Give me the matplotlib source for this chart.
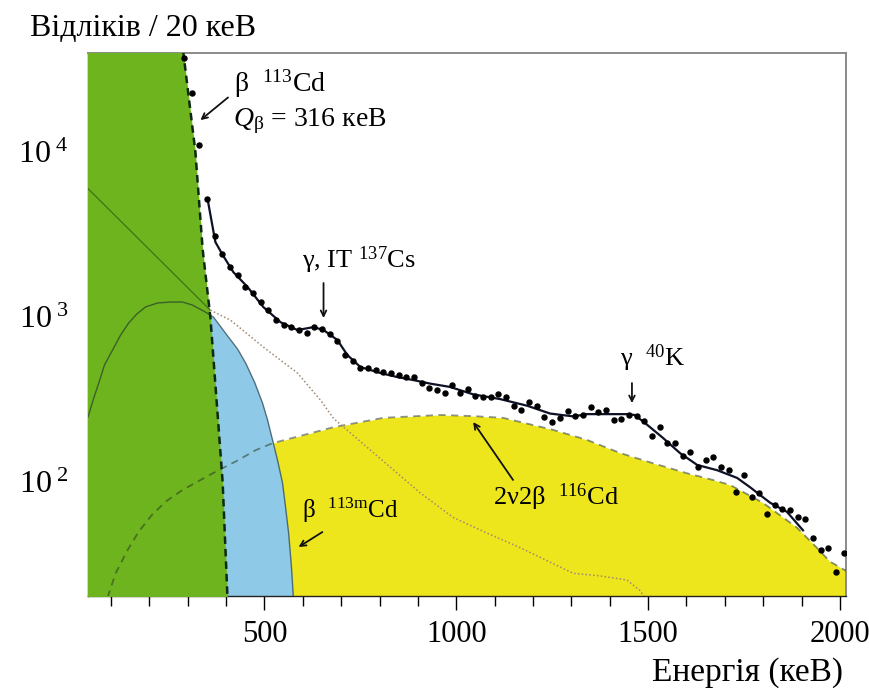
import matplotlib
matplotlib.use("Agg")
import matplotlib.pyplot as plt
from matplotlib.ticker import FixedLocator, FixedFormatter, MultipleLocator, LogLocator, NullFormatter

plt.rcParams["font.family"] = ["Liberation Serif", "DejaVu Serif"]
plt.rcParams["mathtext.fontset"] = "custom"
plt.rcParams["mathtext.rm"] = "Liberation Serif"
plt.rcParams["mathtext.it"] = "Liberation Serif:italic"
plt.rcParams["mathtext.bf"] = "Liberation Serif:bold"

# measured spectrum, counts per 20 keV bin
data_e = [290, 310, 330, 350, 370, 390, 410, 430, 450, 470, 490, 510, 530, 550, 570,
          590, 610, 630, 650, 670, 690, 710, 730, 750, 770, 790, 810, 830, 850, 870,
          890, 910, 930, 950, 970, 990, 1010, 1030, 1050, 1070, 1090, 1110, 1130, 1150,
          1170, 1190, 1210, 1230, 1250, 1270, 1290, 1310, 1330, 1350, 1370, 1390, 1410,
          1430, 1450, 1470, 1490, 1510, 1530, 1550, 1570, 1590, 1610, 1630, 1650, 1670,
          1690, 1710, 1730, 1750, 1770, 1790, 1810, 1830, 1850, 1870, 1890, 1910, 1930,
          1950, 1970, 1990, 2010]
data_n = [37000, 22800, 11000, 5200, 3100, 2400, 2000, 1800, 1520, 1400, 1230, 1100, 960,
          900, 870, 830, 800, 870, 850, 790, 720, 590, 540, 490, 490, 475, 465, 455, 445,
          433, 433, 400, 371, 360, 346, 387, 346, 366, 332, 327, 327, 341, 327, 289, 273,
          305, 289, 248, 231, 245, 269, 250, 255, 285, 266, 273, 238, 241, 255, 251, 234,
          190, 215, 172, 172, 144, 152, 123, 136, 142, 123, 118, 87, 110, 81, 86, 64, 73,
          69, 68, 61, 60, 46, 39, 40, 28.5, 37]

# total fit
fit_e = [352, 372, 391, 419, 456, 497, 542, 586, 628, 654, 690, 716, 750, 802, 846, 888,
         932, 984, 1044, 1115, 1185, 1245, 1305, 1341, 1393, 1445, 1465, 1490, 1539, 1583,
         1628, 1680, 1732, 1766, 1818, 1862, 1904]
fit_n = [5140, 2850, 2380, 1870, 1520, 1150, 930, 834, 869, 834, 726, 589, 498, 458, 433,
         415, 395, 377, 340, 318, 290, 260, 250, 258, 258, 258, 255, 230, 185, 150, 127,
         118, 106, 93, 75, 66, 51]

# beta 113Cd (edge of the green area)
cd113_e = [288, 320, 339, 359, 391, 404]
cd113_n = [41000, 10000, 2560, 1000, 100, 19]

# beta 113mCd
cd113m_e = [40, 55, 68, 83, 104, 125, 146, 167, 190, 221, 255, 286, 312, 346, 367, 406,
            430, 451, 474, 495, 508, 521, 534, 547, 555, 563, 570, 576]
cd113m_n = [248, 323, 398, 512, 631, 778, 920, 1042, 1151, 1216, 1233, 1233, 1183, 1072,
            1000, 757, 640, 526, 404, 301, 238, 180, 136, 99, 70.5, 49, 31.4, 19]

# 2nu2beta 116Cd
cd116_e = [91, 112, 143, 172, 206, 242, 286, 365, 427, 477, 521, 680, 810, 958, 1044,
           1122, 1253, 1341, 1427, 1513, 1602, 1669, 1714, 1799, 1888, 1940, 1974, 2016]
cd116_n = [20, 28, 38.7, 50, 63, 76, 89.5, 113, 134, 156, 172, 215, 245, 255, 251, 245,
           207, 180, 150, 130, 113, 103, 96, 75, 53, 40, 33, 29]

# external background
bg_e = [40, 359, 411, 497, 586, 646, 680, 906, 992, 1081, 1167, 1253, 1305, 1375, 1445,
        1479, 1497]
bg_n = [6000, 1100, 959, 658, 458, 314, 243, 86, 61, 49, 40, 32, 28, 27, 25.5, 22, 19.3]

XMIN, XMAX = 40, 2016
YMIN, YMAX = 20.4, 39800

fig = plt.figure(figsize=(8.69, 6.91), dpi=100)
ax = fig.add_axes([88 / 869, 1 - 596 / 691, 758 / 869, 543 / 691])

ax.fill_between(cd116_e, YMIN / 10, cd116_n, color="#eee61c", lw=0, zorder=1)
ax.fill_between(cd113m_e, YMIN / 10, cd113m_n, color="#8ecae8", lw=0, zorder=2)
ax.fill_betweenx(cd113_n, XMIN - 10, cd113_e, color="#6db41e", lw=0, zorder=3)

ax.plot(cd116_e, cd116_n, color="#2a3a20", lw=1.3, ls=(0, (4, 3)), alpha=0.55, zorder=4)
ax.plot(cd113m_e, cd113m_n, color="#1a2a30", lw=1.0, alpha=0.6, zorder=4)
ax.plot(bg_e[:2], bg_n[:2], color="#2a5a10", lw=0.9, alpha=0.7, zorder=4)
ax.plot(bg_e[1:], bg_n[1:], color="#a08870", lw=1.1, ls=(0, (1, 1.5)), zorder=4)
ax.plot(cd113_e, cd113_n, color="#0e2a10", lw=1.8, ls=(0, (3, 2)), zorder=5)

ax.plot(fit_e, fit_n, color="#0e1226", lw=1.6, zorder=6)
ax.plot(data_e, data_n, ls="none", marker="o", ms=3.6, color="black", zorder=7)

ax.set_xlim(XMIN, XMAX)
ax.set_yscale("log")
ax.set_ylim(YMIN, YMAX)

ax.xaxis.set_major_locator(FixedLocator([500, 1000, 1500, 2000]))
ax.xaxis.set_minor_locator(MultipleLocator(100))
ax.yaxis.set_major_locator(FixedLocator([100, 1000, 10000]))
ax.yaxis.set_major_formatter(FixedFormatter([r"$\mathregular{10^{\ 2}}$",
                                             r"$\mathregular{10^{\ 3}}$",
                                             r"$\mathregular{10^{\ 4}}$"]))
ax.yaxis.set_minor_locator(LogLocator(base=10, subs=range(2, 10), numticks=20))
ax.yaxis.set_minor_formatter(NullFormatter())
ax.tick_params(axis="x", which="both", direction="out", top=False, labelsize=22, pad=7)
ax.tick_params(axis="x", which="major", length=10, width=1)
ax.tick_params(axis="x", which="minor", length=7, width=1)
ax.tick_params(axis="y", which="both", direction="in", right=False, labelsize=23, pad=14)
ax.tick_params(axis="y", which="major", length=10, width=1.2)
ax.tick_params(axis="y", which="minor", length=7, width=1)
for side in ("top", "right"):
    ax.spines[side].set_color("#8a8a8a")
    ax.spines[side].set_linewidth(1.4)
for side in ("left", "bottom"):
    ax.spines[side].set_color("#222222")
    ax.spines[side].set_linewidth(1.0)

# annotations
arr = dict(arrowstyle="->", color="#111111", lw=1.3, shrinkA=0, shrinkB=0)
ax.annotate("", xy=(333, 15600), xytext=(405, 21400), arrowprops=arr, zorder=8)
ax.text(420, 23100, r"β  $^{113}$Cd", fontsize=20, ha="left", va="baseline", zorder=8)
ax.text(418, 14300, r"$Q_\mathrm{\beta}$ = 316 кеВ", fontsize=20, ha="left",
        va="baseline", zorder=8)

ax.annotate("", xy=(654, 986), xytext=(654, 1607), arrowprops=arr, zorder=8)
ax.text(599, 1982, r"γ, IT $^{137}$Cs", fontsize=19, ha="left", va="baseline", zorder=8)

ax.annotate("", xy=(1458, 301), xytext=(1458, 398), arrowprops=arr, zorder=8)
ax.text(1427, 505, r"γ  $^{40}$K", fontsize=19, ha="left", va="baseline", zorder=8)

ax.annotate("", xy=(1044, 231), xytext=(1148, 103), arrowprops=arr, zorder=8)
ax.text(1096, 72.6, r"2ν2β  $^{116}$Cd", fontsize=19, ha="left", va="baseline", zorder=8)

ax.annotate("", xy=(589, 40.4), xytext=(651, 49.8), arrowprops=arr, zorder=8)
ax.text(599, 60.5, r"β  $^{\mathrm{113m}}$Cd", fontsize=18, ha="left", va="baseline",
        zorder=8)

fig.text(30 / 869, 1 - 28 / 691, "Відліків / 20 кеВ", fontsize=23, ha="left", va="center")
fig.text(843 / 869, 1 - 673 / 691, "Енергія (кеВ)", fontsize=24, ha="right", va="center")

fig.savefig("out.png", dpi=100, facecolor="white")
